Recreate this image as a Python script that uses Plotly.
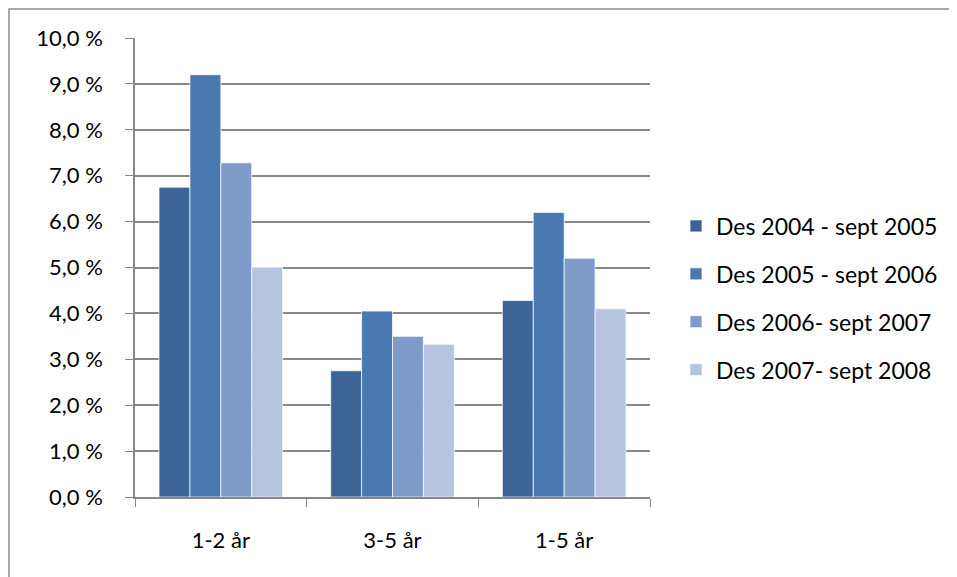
import plotly.graph_objects as go

categories = ["1-2 år", "3-5 år", "1-5 år"]
series_names = ["Des 2004 - sept 2005", "Des 2005 - sept 2006", "Des 2006- sept 2007", "Des 2007- sept 2008"]
s2005 = [6.75, 2.75, 4.28]
s2006 = [9.2, 4.05, 6.2]
s2007 = [7.28, 3.5, 5.2]
s2008 = [5.0, 3.33, 4.1]
tick_vals = [0, 1, 2, 3, 4, 5, 6, 7, 8, 9, 10]
tick_text = ["0,0 %", "1,0 %", "2,0 %", "3,0 %", "4,0 %", "5,0 %", "6,0 %", "7,0 %", "8,0 %", "9,0 %", "10,0 %"]

colors = ["#3D6497", "#4A78B0", "#7F9CC8", "#B5C4DF"]
series = [s2005, s2006, s2007, s2008]

OFF = 8  # page body margin
W, H = 957, 577
L, T = 135 - OFF, 38 - OFF
pw, ph = 515, 459
R, B = W - L - pw, H - T - ph

fig = go.Figure()
for name, vals, c in zip(series_names, series, colors):
    fig.add_trace(go.Bar(x=categories, y=vals, name=name, legendgroup=name,
                         marker=dict(color=c, line=dict(color="rgba(255,255,255,0.7)", width=1))))

def px_x(p):
    return (p - OFF - L) / pw

def px_y(p):
    return (T + ph - (p - OFF)) / ph

fig.update_layout(
    width=W, height=H,
    margin=dict(l=L, r=R, t=T, b=B),
    paper_bgcolor="white", plot_bgcolor="white",
    barmode="group", bargap=0.28, bargroupgap=0,
    font=dict(family="Lato, Open Sans, sans-serif", size=22, color="#000000"),
    legend=dict(x=px_x(676), xanchor="left", y=px_y(298), yanchor="middle",
                tracegroupgap=15, font=dict(size=23), itemwidth=30),
    showlegend=True,
    shapes=[dict(type="rect", xref="paper", yref="paper",
                 x0=px_x(9), x1=px_x(952), y0=px_y(600), y1=px_y(9),
                 line=dict(color="#8C8C8C", width=1.5), fillcolor="rgba(0,0,0,0)", layer="below")],
)
fig.update_yaxes(range=[0, 10], tickvals=tick_vals, ticktext=tick_text,
                 showgrid=True, gridcolor="#878787", gridwidth=1.5,
                 showline=True, linecolor="#878787", linewidth=1.5,
                 ticks="outside", ticklen=8, tickcolor="#878787", zeroline=False,
                 ticklabelstandoff=18)
fig.update_xaxes(showline=True, linecolor="#878787", linewidth=1.5,
                 ticks="outside", tickson="boundaries", ticklen=8, tickcolor="#878787",
                 showgrid=False, ticklabelstandoff=23)

fig.write_html("out.html")
